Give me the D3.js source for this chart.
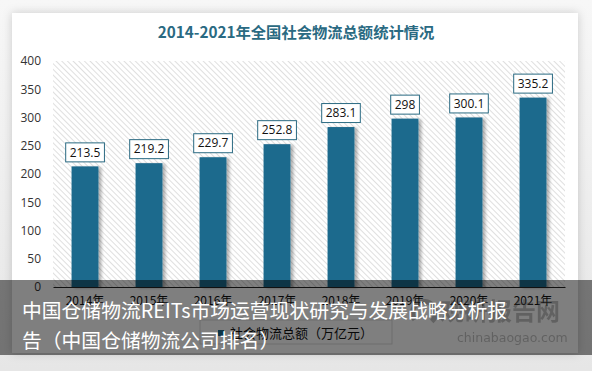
<!DOCTYPE html>
<html>
<head>
<meta charset="utf-8">
<script src="https://cdn.jsdelivr.net/npm/d3@7"></script>
<style>
  body { margin: 0; background: #ececec; }
  svg { display: block; }
</style>
</head>
<body>
<script>
//chart values
var years = ["2014年", "2015年", "2016年", "2017年", "2018年", "2019年", "2020年", "2021年"];
var totals = [213.5, 219.2, 229.7, 252.8, 283.1, 298, 300.1, 335.2];
var yTicks = [0, 50, 100, 150, 200, 250, 300, 350, 400];

var titleText = "2014-2021年全国社会物流总额统计情况";
var legendText = "社会物流总额（万亿元）";
var bannerLines = ["中国仓储物流REITs市场运营现状研究与发展战略分析报", "告（中国仓储物流公司排名）"];

var width = 592, height = 371;
var plot = {left: 53, right: 565, top: 61, bottom: 287};
var barColor = "#1d6a8d";
var cjk = "'Noto Sans CJK SC', 'Noto Sans', sans-serif";

var svg = d3.select("body").append("svg")
    .attr("width", width)
    .attr("height", height);

var defs = svg.append("defs");

//soft page background and card shadow
var bg = defs.append("linearGradient").attr("id", "bg").attr("x1", 0).attr("y1", 0).attr("x2", 0).attr("y2", 1);
bg.append("stop").attr("offset", "0%").attr("stop-color", "#f7f7f7");
bg.append("stop").attr("offset", "100%").attr("stop-color", "#e6e6e6");

var cardShadow = defs.append("filter").attr("id", "cardShadow")
    .attr("x", "-10%").attr("y", "-10%").attr("width", "120%").attr("height", "120%");
cardShadow.append("feDropShadow").attr("dx", 0).attr("dy", 0).attr("stdDeviation", 5)
    .attr("flood-color", "#000").attr("flood-opacity", 0.18);

var barShadow = defs.append("filter").attr("id", "barShadow")
    .attr("x", "-20%").attr("y", "-10%").attr("width", "160%").attr("height", "120%");
barShadow.append("feDropShadow").attr("dx", 3).attr("dy", 1).attr("stdDeviation", 1.5)
    .attr("flood-color", "#000").attr("flood-opacity", 0.3);

//diagonal hatch for the plot area (lines run top-left to bottom-right)
var hatch = defs.append("pattern").attr("id", "hatch")
    .attr("patternUnits", "userSpaceOnUse")
    .attr("width", 4).attr("height", 4)
    .attr("patternTransform", "rotate(-45)");
hatch.append("rect").attr("width", 4).attr("height", 4).attr("fill", "#fff");
hatch.append("line").attr("x1", 0).attr("y1", 0).attr("x2", 0).attr("y2", 4)
    .attr("stroke", "#cacaca").attr("stroke-width", 1.2);

svg.append("rect").attr("width", width).attr("height", height).attr("fill", "url(#bg)");

//white card
svg.append("rect")
    .attr("x", 12).attr("y", 13)
    .attr("width", 566).attr("height", 340)
    .attr("fill", "#fff")
    .attr("filter", "url(#cardShadow)");

//title
svg.append("text")
    .attr("x", 296).attr("y", 38)
    .attr("text-anchor", "middle")
    .style("font-family", cjk)
    .style("font-weight", "bold")
    .style("font-size", "15.3px")
    .style("fill", "#2a6a82")
    .text(titleText);

//scales
var x = d3.scaleBand()
    .domain(years)
    .range([plot.left, plot.right])
    .paddingInner(0.58)
    .paddingOuter(0.29);

var y = d3.scaleLinear()
    .domain([0, 400])
    .range([plot.bottom, plot.top]);

//plot background
svg.append("rect")
    .attr("x", plot.left).attr("y", plot.top)
    .attr("width", plot.right - plot.left)
    .attr("height", plot.bottom - plot.top)
    .attr("fill", "url(#hatch)");

//y axis labels
var yAxis = svg.append("g")
    .attr("transform", "translate(" + (plot.left - 3) + ",0)")
    .call(d3.axisLeft(y).tickValues(yTicks).tickSize(0).tickPadding(9));
yAxis.select(".domain").remove();
yAxis.selectAll("text")
    .style("font-family", "'Open Sans', 'DejaVu Sans', sans-serif")
    .style("font-size", "12px")
    .style("fill", "#333");

//bars
svg.selectAll(".bar")
    .data(totals)
    .enter()
    .append("rect")
    .attr("class", "bar")
    .attr("x", function(d, i){ return x(years[i]); })
    .attr("y", function(d){ return y(d); })
    .attr("width", x.bandwidth())
    .attr("height", function(d){ return y(0) - y(d); })
    .attr("fill", barColor)
    .attr("filter", "url(#barShadow)");

//x axis
var xAxis = svg.append("g")
    .attr("transform", "translate(0," + plot.bottom + ")")
    .call(d3.axisBottom(x).tickSize(0).tickPadding(9));
xAxis.select(".domain").attr("stroke", "#222").attr("stroke-width", 1);
xAxis.selectAll("text")
    .style("font-family", cjk)
    .style("font-size", "12px")
    .style("fill", "#111");

//value labels in boxes
var labels = svg.selectAll(".valLabel")
    .data(totals)
    .enter()
    .append("g")
    .attr("class", "valLabel")
    .attr("transform", function(d, i){
        return "translate(" + (x(years[i]) + x.bandwidth() / 2) + "," + (y(d) - 14) + ")";
    });

labels.append("text")
    .attr("text-anchor", "middle")
    .attr("dy", "0.35em")
    .style("font-family", "'Open Sans', 'DejaVu Sans', sans-serif")
    .style("font-size", "12px")
    .style("fill", "#111")
    .text(function(d){ return d; });

labels.each(function(){
    var g = d3.select(this);
    var bb = g.select("text").node().getBBox();
    g.insert("rect", "text")
        .attr("x", bb.x - 4).attr("y", -9.5)
        .attr("width", bb.width + 8).attr("height", 19)
        .attr("fill", "#fff")
        .attr("stroke", "#2a6a82")
        .attr("stroke-width", 1);
});

//legend
var legend = svg.append("g").attr("transform", "translate(200,320)");
legend.append("rect")
    .attr("width", 192).attr("height", 24)
    .attr("fill", "#fff")
    .attr("stroke", "#d9d9d9");
legend.append("rect")
    .attr("x", 18).attr("y", 10)
    .attr("width", 6).attr("height", 6)
    .attr("fill", barColor);
legend.append("text")
    .attr("x", 30).attr("y", 17.5)
    .style("font-family", cjk)
    .style("font-size", "13px")
    .style("fill", "#111")
    .text(legendText);

//semi-transparent banner over the bottom
svg.append("rect")
    .attr("x", 0).attr("y", 280)
    .attr("width", width).attr("height", 75)
    .attr("fill", "#000")
    .attr("fill-opacity", 0.5);

//watermark
var mark = svg.append("g").attr("opacity", 0.38);
mark.append("path")
    .attr("d", d3.arc()({innerRadius: 9, outerRadius: 14, startAngle: -2.2, endAngle: 2.4}))
    .attr("transform", "translate(424,313)")
    .attr("fill", "#333");
mark.append("text")
    .attr("x", 440).attr("y", 320)
    .style("font-family", cjk)
    .style("font-weight", "bold")
    .style("font-size", "24px")
    .style("fill", "#333")
    .text("观研报告网");
mark.append("text")
    .attr("x", 457).attr("y", 342)
    .style("font-family", "'DejaVu Sans', sans-serif")
    .style("font-size", "12.5px")
    .style("fill", "#333")
    .text("chinabaogao.com");

svg.selectAll(".banner")
    .data(bannerLines)
    .enter()
    .append("text")
    .attr("class", "banner")
    .attr("x", 22)
    .attr("y", function(d, i){ return 318 + i * 30; })
    .style("font-family", cjk)
    .style("font-size", "19.8px")
    .style("fill", "#fff")
    .text(function(d){ return d; });
</script>
</body>
</html>
